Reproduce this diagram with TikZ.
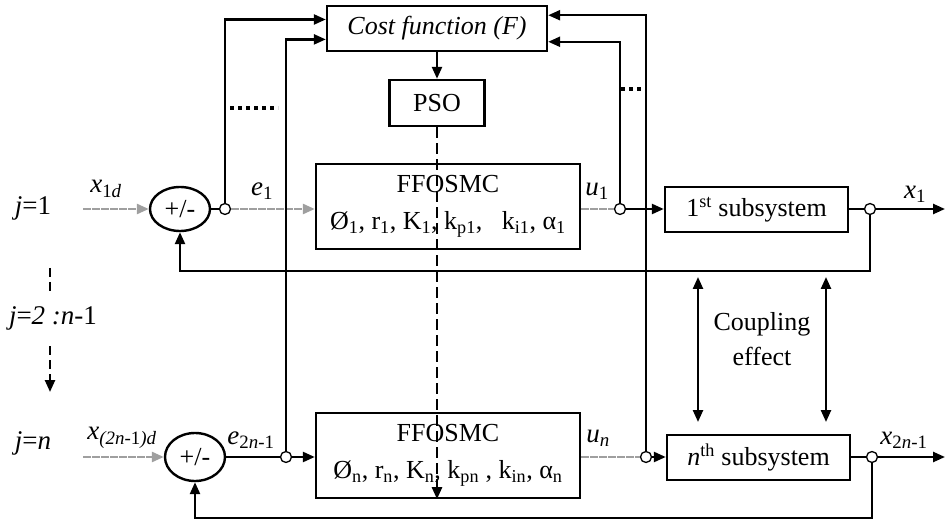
\documentclass[tikz,border=0pt]{standalone}
\usepackage{fontspec}
\setmainfont{Liberation Serif}
\usetikzlibrary{arrows.meta,calc,shapes.geometric}
\begin{document}
\begin{tikzpicture}[x=1pt,y=-1pt,
  every node/.style={font=\fontsize{26}{29}\selectfont},
  box/.style={draw, line width=2.4pt, rectangle, inner sep=0pt},
  sumj/.style={draw, ellipse, line width=2.4pt, minimum width=60pt, minimum height=44pt, inner sep=0pt},
  tap/.style={draw, circle, fill=white, line width=1.3pt, minimum size=11pt, inner sep=0pt},
  ln/.style={line width=2.4pt},
  sig/.style={draw=gray!75, line width=2.6pt, dash pattern=on 8pt off 1pt},
  arr/.style={-{Triangle[length=12pt,width=10pt]}},
  dbl/.style={{Triangle[length=12pt,width=10pt]}-{Triangle[length=12pt,width=10pt]}},
  dots/.style={line width=4pt, dash pattern=on 4pt off 4pt},
  lbl/.style={font=\fontsize{27}{30}\selectfont, inner sep=0pt},
]
\useasboundingbox (0,0) rectangle (945,521);

% blocks
\node[box, minimum width=220pt, minimum height=45pt] (cost) at (437,28.5) {\textit{Cost function (F)}};
\node[box, minimum width=95pt, minimum height=46pt] (pso) at (437,103) {PSO};
\node[box, minimum width=264pt, minimum height=85pt, align=center, font=\fontsize{26}{37}\selectfont] (ff1) at (448,206.5)
  {FFOSMC\\Ø\textsubscript{1}, r\textsubscript{1}, K\textsubscript{1}, k\textsubscript{p1},\ \ \ k\textsubscript{i1}, α\textsubscript{1}};
\node[box, minimum width=264pt, minimum height=85pt, align=center, font=\fontsize{26}{37}\selectfont] (ffn) at (448,455.5)
  {FFOSMC\\Ø\textsubscript{n}, r\textsubscript{n}, K\textsubscript{n}, k\textsubscript{pn}\ , k\textsubscript{in}, α\textsubscript{n}};
\node[box, minimum width=183pt, minimum height=45pt] (sub1) at (756.5,209.5) {1\textsuperscript{st} subsystem};
\node[box, minimum width=183pt, minimum height=45pt] (subn) at (758.5,457.5) {\textit{n}\textsuperscript{th} subsystem};
\node[sumj] (sum1) at (180,209) {+/-};
\node[sumj, minimum height=48pt] (sumn) at (195,457) {+/-};

% taps
\node[tap] (c1) at (225,209) {};
\node[tap] (cu1) at (620,209) {};
\node[tap] (co1) at (870,209) {};
\node[tap] (cn) at (286,457) {};
\node[tap] (cun) at (646,457) {};
\node[tap] (con) at (872,457) {};

\coordinate (in1) at (83,209);
\coordinate (inn) at (83,457);
\coordinate (out1) at (945,209);
\coordinate (outn) at (945,457);

% row 1
\draw[sig, arr] (in1) -- (sum1.west);
\draw[ln] (sum1.east) -- (c1.west);
\draw[sig, arr] (c1.east) -- (c1 -| ff1.west);
\draw[sig] (ff1.east |- cu1) -- (cu1.west);
\draw[ln, arr] (cu1.east) -- (cu1 -| sub1.west);
\draw[ln] (sub1.east |- co1) -- (co1.west);
\draw[ln, arr] (co1.east) -- (out1);
\draw[ln, arr] (co1.south) -- ++(0,56) -| (sum1.south);

% row n
\draw[sig, arr] (inn) -- (sumn.west);
\draw[ln] (sumn.east) -- (cn.west);
\draw[ln, arr] (cn.east) -- (cn -| ffn.west);
\draw[sig] (ffn.east |- cun) -- (cun.west);
\draw[ln, arr] (cun.east) -- (cun -| subn.west);
\draw[ln] (subn.east |- con) -- (con.west);
\draw[ln, arr] (con.east) -- (outn);
\draw[ln, arr] (con.south) -- ++(0,55) -| (sumn.south);

% cost function inputs
\draw[ln, arr] (c1.north) |- ($(cost.north west)!0.31!(cost.south west)$);
\draw[ln, arr] (cn.north) |- ($(cost.north west)!0.73!(cost.south west)$);
\draw[ln, arr] (cu1.north) |- ($(cost.north east)!0.78!(cost.south east)$);
\draw[ln, arr] (cun.north) |- ($(cost.north east)!0.22!(cost.south east)$);
\draw[ln, arr] (cost.south) -- (cost.south |- pso.north);
\draw[ln, dash pattern=on 11pt off 5pt, arr] (pso.south) -- (pso.south |- ffn.south);

% dotted ellipses
\coordinate (dl1) at (230,108); \coordinate (dl2) at (278,108);
\coordinate (dr1) at (621,89); \coordinate (dr2) at (646,89);
\draw[dots] (dl1) -- (dl2);
\draw[dots] (dr1) -- (dr2);

% j index
\node[lbl] (j1) at (33,208) {\textit{j}=1};
\node[lbl] (j2) at (53,318) {\textit{j}=\textit{2 :n}-1};
\node[lbl] (jn) at (33,443) {\textit{j}=\textit{n}};
\coordinate (ja) at (50,268); \coordinate (jb) at (50,293);
\coordinate (jc) at (50,346); \coordinate (jd) at (50,392);
\draw[ln, dash pattern=on 9pt off 5pt] (ja) -- (jb);
\draw[ln, dash pattern=on 9pt off 5pt, arr] (jc) -- (jd);

% coupling
\coordinate (ca1) at (698,277); \coordinate (ca2) at (698,422);
\coordinate (cb1) at (826,277); \coordinate (cb2) at (826,422);
\draw[ln, dbl] (ca1) -- (ca2);
\draw[ln, dbl] (cb1) -- (cb2);
\node[align=center, font=\fontsize{26}{35}\selectfont] (coup) at (762,339) {Coupling\\effect};

% signal labels
\node[lbl] (lx1d) at (106,189) {\textit{x}\textsubscript{1\textit{d}}};
\node[lbl] (le1) at (262,191) {\textit{e}\textsubscript{1}};
\node[lbl] (lu1) at (597,191) {\textit{u}\textsubscript{1}};
\node[lbl] (lx1) at (915,194) {\textit{x}\textsubscript{1}};
\node[lbl] (lxnd) at (122,438) {\textit{x}\textsubscript{\textit{(2n}-1\textit{)d}}};
\node[lbl] (len) at (251,440) {\textit{e}\textsubscript{2\textit{n}-1}};
\node[lbl] (lun) at (598,438) {\textit{u}\textsubscript{\textit{n}}};
\node[lbl] (lxn) at (904,440) {\textit{x}\textsubscript{2\textit{n}-1}};
\end{tikzpicture}
\end{document}
